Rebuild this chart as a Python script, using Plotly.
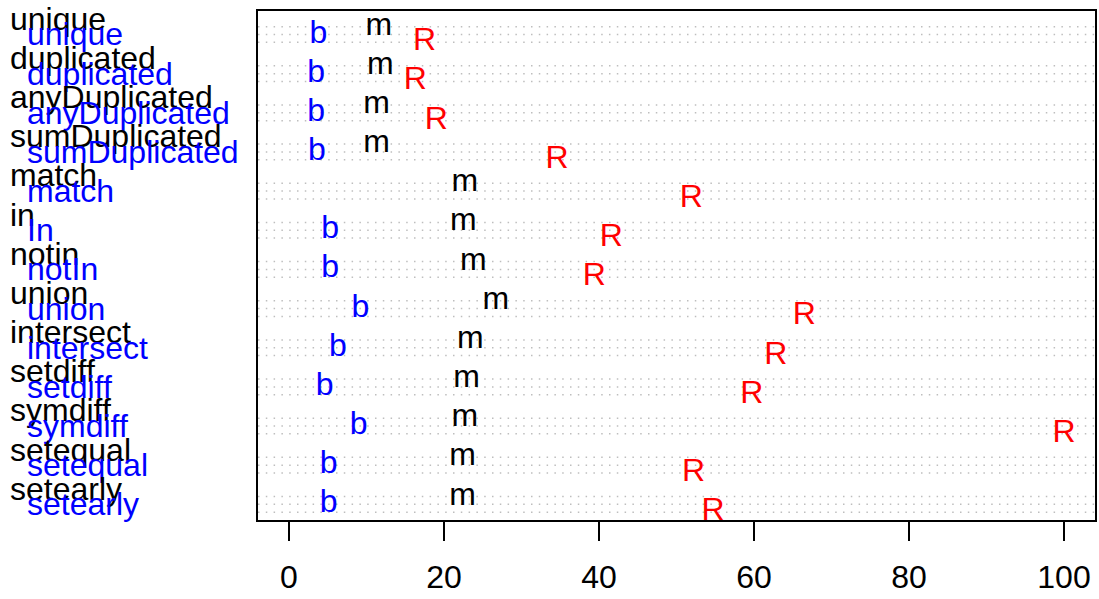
import plotly.graph_objects as go

funcs = ["unique", "duplicated", "anyDuplicated", "sumDuplicated", "match", "in",
         "notin", "union", "intersect", "setdiff", "symdiff", "setequal", "setearly"]
alt_names = ["unique", "duplicated", "anyDuplicated", "sumDuplicated", "match", "In",
             "notIn", "union", "intersect", "setdiff", "symdiff", "setequal", "setearly"]
m_vals = [11.6, 11.8, 11.3, 11.3, 22.7, 22.5, 23.8, 26.7, 23.4, 22.9, 22.7, 22.4, 22.4]
b_vals = [3.8, 3.5, 3.5, 3.6, None, 5.3, 5.3, 9.2, 6.3, 4.6, 9.0, 5.1, 5.1]
R_vals = [17.5, 16.3, 19.0, 34.6, 51.9, 41.6, 39.4, 66.5, 62.8, 59.7, 100.0, 52.2, 54.7]
x_ticks = [0, 20, 40, 60, 80, 100]

FONT = "Liberation Sans, Arial, sans-serif"
FS = 32
n = len(funcs)

def base(i):
    return 5 * (n - 1 - i)

fig = go.Figure()

# dotted reference lines
shapes = []
for i in range(n):
    for k in (1, 2, 3):
        shapes.append(dict(type="line", xref="paper", x0=0, x1=1, yref="y",
                           y0=base(i) + k, y1=base(i) + k, layer="below",
                           line=dict(color="#BEBEBE", width=1.5, dash="1.5px,6.3px")))

fig.add_trace(go.Scatter(x=m_vals, y=[base(i) + 3 for i in range(n)], mode="text",
                         text=["m"] * n, textposition="middle center",
                         textfont=dict(family=FONT, size=FS, color="black"),
                         cliponaxis=False, showlegend=False, hoverinfo="skip"))
bx = [v for v in b_vals if v is not None]
by = [base(i) + 2 for i, v in enumerate(b_vals) if v is not None]
fig.add_trace(go.Scatter(x=bx, y=by, mode="text", text=["b"] * len(bx),
                         textposition="middle center",
                         textfont=dict(family=FONT, size=FS, color="#0000FF"),
                         cliponaxis=False, showlegend=False, hoverinfo="skip"))
fig.add_trace(go.Scatter(x=R_vals, y=[base(i) + 1 for i in range(n)], mode="text",
                         text=["R"] * n, textposition="middle center",
                         textfont=dict(family=FONT, size=FS, color="#FF0000"),
                         cliponaxis=False, showlegend=False, hoverinfo="skip"))

annotations = []
for i in range(n):
    annotations.append(dict(xref="paper", x=0, xanchor="left", xshift=-250,
                            yref="y", y=base(i) + 4, yanchor="middle",
                            text=funcs[i], showarrow=False,
                            font=dict(family=FONT, size=FS, color="black")))
    annotations.append(dict(xref="paper", x=0, xanchor="left", xshift=-233,
                            yref="y", y=base(i) + 2, yanchor="middle",
                            text=alt_names[i], showarrow=False,
                            font=dict(family=FONT, size=FS, color="#0000FF")))

fig.update_layout(
    width=1099, height=599,
    margin=dict(l=258, r=2, t=11, b=79),
    paper_bgcolor="white", plot_bgcolor="white",
    shapes=shapes, annotations=annotations,
    xaxis=dict(range=[-4, 104], tickvals=x_ticks, ticktext=[str(v) for v in x_ticks],
               ticks="outside", ticklen=19, tickwidth=2, tickcolor="black",
               ticklabelstandoff=9,
               showline=True, mirror=True, linewidth=2, linecolor="black",
               showgrid=False, zeroline=False,
               tickfont=dict(family=FONT, size=FS, color="black")),
    yaxis=dict(range=[0, 65], showticklabels=False, ticks="",
               showline=True, mirror=True, linewidth=2, linecolor="black",
               showgrid=False, zeroline=False),
)

fig.write_html("out.html")
